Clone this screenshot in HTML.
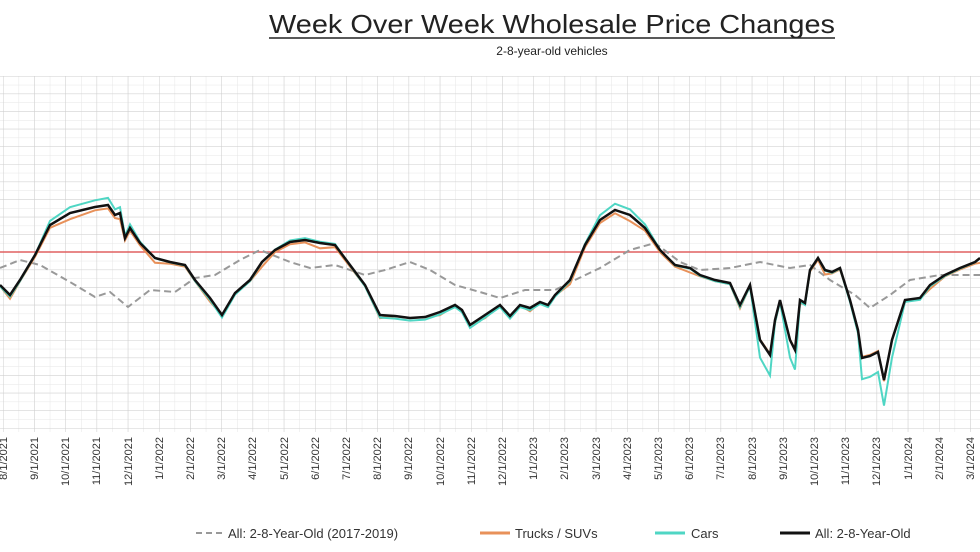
<!DOCTYPE html>
<html><head><meta charset="utf-8"><style>
body{margin:0;background:#fff;}
svg{display:block;font-family:"Liberation Sans",sans-serif;}
</style></head><body>
<svg id="s" width="980" height="552" viewBox="0 0 980 552">
<defs>
<pattern id="minor" width="15.6" height="8.8" patternUnits="userSpaceOnUse" x="3" y="76">
<path d="M0 0H15.6M0 0V8.8" stroke="#e6e6e6" stroke-width="1" fill="none"/>
</pattern>
<pattern id="major" width="31.2" height="17.6" patternUnits="userSpaceOnUse" x="3" y="76">
<path d="M0 0H31.2M0 0V17.6" stroke="#cfcfcf" stroke-width="1" fill="none"/>
</pattern>
</defs>
<rect x="0" y="76" width="980" height="356" fill="url(#minor)"/>
<rect x="0" y="76" width="980" height="356" fill="url(#major)"/>
<line x1="0" y1="252" x2="980" y2="252" stroke="#e06060" stroke-width="1.5"/>
<text x="269" y="33" font-size="26" textLength="566" lengthAdjust="spacingAndGlyphs" fill="#222">Week Over Week Wholesale Price Changes</text>
<line x1="269" y1="38" x2="835" y2="38" stroke="#222" stroke-width="1.5"/>
<text x="552" y="55" font-size="12" text-anchor="middle" fill="#222">2-8-year-old vehicles</text>
<polyline id="gray" fill="none" stroke="#999" stroke-width="2" stroke-dasharray="7,4" points="0,268 20,260 40,265 70,282 95,297 110,292 128,307 150,290 175,292 195,278 215,275 240,260 260,250 290,262 310,268 335,265 365,275 385,270 410,262 430,270 455,285 480,292 500,298 525,290 555,290 575,280 600,268 630,250 655,243 680,262 700,270 730,268 760,262 790,268 810,265 830,280 855,295 870,308 890,295 910,280 940,275 980,275"/>
<polyline id="trucks" fill="none" stroke="#e8915a" stroke-width="2"/>
<polyline id="cars" fill="none" stroke="#4fd6c4" stroke-width="2"/>
<polyline id="black" fill="none" stroke="#111" stroke-width="2.5" points="0,285 10,295 20,280 35,255 50,225 70,213 95,207 108,205 115,215 120,213 125,238 130,228 140,243 155,258 170,262 185,265 195,280 210,298 222,315 235,293 250,280 262,262 275,250 290,242 305,240 320,243 335,245 350,265 365,285 380,315 395,316 410,318 425,317 440,312 455,305 462,310 470,325 485,315 500,305 510,316 520,305 530,308 540,302 548,305 555,295 570,280 585,245 600,220 615,210 630,215 645,228 660,250 675,265 690,268 700,275 715,280 730,283 740,305 750,285 760,340 770,355 775,320 780,300 790,340 795,350 800,300 805,303 810,270 818,258 825,270 832,272 840,268 850,300 858,330 862,358 870,356 878,352 884,380 892,340 905,300 920,298 930,285 945,275 960,268 975,262 980,258"/>
<g font-size="11" fill="#333">
<text transform="translate(7,437) rotate(-90)" text-anchor="end">8/1/2021</text>
<text transform="translate(38,437) rotate(-90)" text-anchor="end">9/1/2021</text>
<text transform="translate(69,437) rotate(-90)" text-anchor="end">10/1/2021</text>
<text transform="translate(100,437) rotate(-90)" text-anchor="end">11/1/2021</text>
<text transform="translate(132,437) rotate(-90)" text-anchor="end">12/1/2021</text>
<text transform="translate(163,437) rotate(-90)" text-anchor="end">1/1/2022</text>
<text transform="translate(194,437) rotate(-90)" text-anchor="end">2/1/2022</text>
<text transform="translate(225,437) rotate(-90)" text-anchor="end">3/1/2022</text>
<text transform="translate(256,437) rotate(-90)" text-anchor="end">4/1/2022</text>
<text transform="translate(288,437) rotate(-90)" text-anchor="end">5/1/2022</text>
<text transform="translate(319,437) rotate(-90)" text-anchor="end">6/1/2022</text>
<text transform="translate(350,437) rotate(-90)" text-anchor="end">7/1/2022</text>
<text transform="translate(381,437) rotate(-90)" text-anchor="end">8/1/2022</text>
<text transform="translate(412,437) rotate(-90)" text-anchor="end">9/1/2022</text>
<text transform="translate(444,437) rotate(-90)" text-anchor="end">10/1/2022</text>
<text transform="translate(475,437) rotate(-90)" text-anchor="end">11/1/2022</text>
<text transform="translate(506,437) rotate(-90)" text-anchor="end">12/1/2022</text>
<text transform="translate(537,437) rotate(-90)" text-anchor="end">1/1/2023</text>
<text transform="translate(568,437) rotate(-90)" text-anchor="end">2/1/2023</text>
<text transform="translate(600,437) rotate(-90)" text-anchor="end">3/1/2023</text>
<text transform="translate(631,437) rotate(-90)" text-anchor="end">4/1/2023</text>
<text transform="translate(662,437) rotate(-90)" text-anchor="end">5/1/2023</text>
<text transform="translate(693,437) rotate(-90)" text-anchor="end">6/1/2023</text>
<text transform="translate(724,437) rotate(-90)" text-anchor="end">7/1/2023</text>
<text transform="translate(756,437) rotate(-90)" text-anchor="end">8/1/2023</text>
<text transform="translate(787,437) rotate(-90)" text-anchor="end">9/1/2023</text>
<text transform="translate(818,437) rotate(-90)" text-anchor="end">10/1/2023</text>
<text transform="translate(849,437) rotate(-90)" text-anchor="end">11/1/2023</text>
<text transform="translate(880,437) rotate(-90)" text-anchor="end">12/1/2023</text>
<text transform="translate(912,437) rotate(-90)" text-anchor="end">1/1/2024</text>
<text transform="translate(943,437) rotate(-90)" text-anchor="end">2/1/2024</text>
<text transform="translate(974,437) rotate(-90)" text-anchor="end">3/1/2024</text>
</g>
<g font-size="13" fill="#333">
<line x1="196" y1="533" x2="226" y2="533" stroke="#999" stroke-width="2" stroke-dasharray="6,4"/>
<text x="228" y="538">All: 2-8-Year-Old (2017-2019)</text>
<line x1="480" y1="533" x2="510" y2="533" stroke="#e8915a" stroke-width="3"/>
<text x="515" y="538">Trucks / SUVs</text>
<line x1="655" y1="533" x2="685" y2="533" stroke="#4fd6c4" stroke-width="3"/>
<text x="691" y="538">Cars</text>
<line x1="780" y1="533" x2="810" y2="533" stroke="#111" stroke-width="3"/>
<text x="815" y="538">All: 2-8-Year-Old</text>
</g>
</svg>
<script>
var b=document.getElementById('black').getAttribute('points').trim().split(/\s+/).map(function(p){return p.split(',').map(Number);});
function mk(f){return b.map(function(p,i){return p[0]+','+f(p[1],i,p[0]).toFixed(1);}).join(' ');}
document.getElementById('cars').setAttribute('points',mk(function(y,i,x){var d=y-252;var k=d<0?1.15:(y>330?1.2:1.04);return 252+d*k;}));
document.getElementById('trucks').setAttribute('points',mk(function(y,i){var d=y-252;return 252+d*0.97+2+(i%4==1?3:0);}));
</script>
</body></html>
